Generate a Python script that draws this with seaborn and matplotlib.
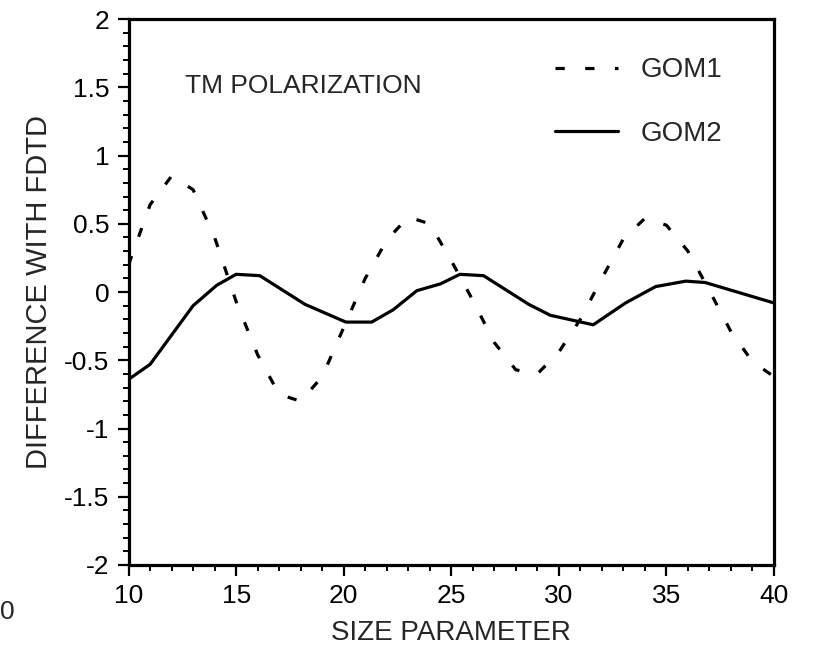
import numpy as np
import pandas as pd
import matplotlib
matplotlib.use("Agg")
import matplotlib.pyplot as plt
from matplotlib.ticker import MultipleLocator, FuncFormatter
import seaborn as sns

# Difference between geometric-optics models and FDTD, TM polarization
gom1_x = [10, 11, 12, 13, 14, 15, 16, 17, 18, 19, 20, 21, 22, 23, 24, 25,
          26, 27, 28, 29, 30, 31, 32, 33, 34, 35, 36, 37, 38, 39, 40]
gom1_y = [0.20, 0.64, 0.85, 0.75, 0.40, -0.07, -0.46, -0.75, -0.80, -0.62,
          -0.26, 0.10, 0.38, 0.55, 0.50, 0.23, -0.06, -0.37, -0.57, -0.60,
          -0.44, -0.20, 0.10, 0.39, 0.54, 0.49, 0.30, 0.01, -0.29, -0.51, -0.62]

gom2_x = [10, 11, 13, 14.1, 15, 16.1, 18.2, 20.1, 21.3, 22.3, 23.4, 24.5,
          25.4, 26.5, 28.6, 29.6, 31.6, 33.1, 34.5, 35.9, 36.8, 40]
gom2_y = [-0.64, -0.53, -0.10, 0.05, 0.13, 0.12, -0.09, -0.22, -0.22, -0.13,
          0.01, 0.06, 0.13, 0.12, -0.09, -0.17, -0.24, -0.08, 0.04, 0.08,
          0.07, -0.08]

x_ticks = [10, 15, 20, 25, 30, 35, 40]
y_ticks = [-2, -1.5, -1, -0.5, 0, 0.5, 1, 1.5, 2]

sns.set_theme(style="ticks")
plt.rcParams["font.family"] = ["Liberation Sans", "DejaVu Sans"]
plt.rcParams["axes.unicode_minus"] = False

fig = plt.figure(figsize=(8.19, 6.60), dpi=100)
ax = fig.add_axes([0.157, 0.144, 0.788, 0.827])

df1 = pd.DataFrame({"x": gom1_x, "y": gom1_y})
df2 = pd.DataFrame({"x": gom2_x, "y": gom2_y})

sns.lineplot(data=df1, x="x", y="y", ax=ax, color="black", lw=2.3,
             label="GOM1", sort=False)
ax.lines[-1].set_linestyle((0, (2.9, 6.4)))
sns.lineplot(data=df2, x="x", y="y", ax=ax, color="black", lw=2.3,
             label="GOM2", sort=False)

ax.set_xlim(10, 40)
ax.set_ylim(-2, 2)
ax.set_xticks(x_ticks)
ax.set_yticks(y_ticks)
ax.xaxis.set_minor_locator(MultipleLocator(1))
ax.yaxis.set_minor_locator(MultipleLocator(0.1))
ax.yaxis.set_major_formatter(FuncFormatter(lambda v, p: f"{v:g}"))
ax.tick_params(axis="both", which="major", direction="out", length=8,
               width=1.6, labelsize=19, pad=6, color="black", labelcolor="black")
ax.tick_params(axis="both", which="minor", direction="out", length=4.5,
               width=1.4, color="black")

for side in ["left", "bottom", "top", "right"]:
    ax.spines[side].set_visible(True)
    ax.spines[side].set_linewidth(2.3)
    ax.spines[side].set_color("black")

ax.set_xlabel("SIZE PARAMETER", fontsize=20, labelpad=8)
ax.set_ylabel("DIFFERENCE WITH FDTD", fontsize=21, labelpad=8)

ax.text(12.6, 1.51, "TM POLARIZATION", fontsize=19, ha="left", va="center")

leg = ax.legend(loc="upper left", bbox_to_anchor=(0.66, 0.93), frameon=False,
                fontsize=20, handlelength=2.3, handletextpad=0.8,
                labelspacing=1.35, borderpad=0, borderaxespad=0)

# edge fragments of neighbouring panels on the same page
fig.text(0.0, 0.072, "0", fontsize=19, ha="left", va="center")
fig.text(0.147, 1.0 - 0.004, "10", fontsize=19, ha="center", va="bottom")

fig.savefig("out.png", dpi=100)
